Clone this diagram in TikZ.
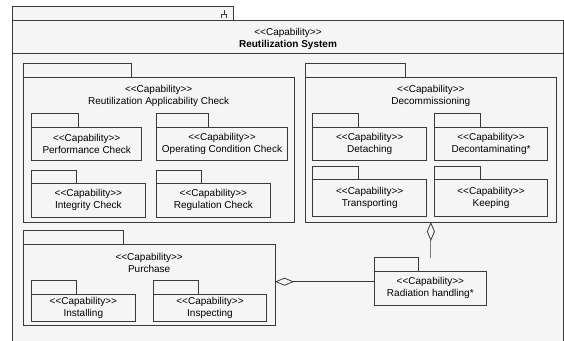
\documentclass[tikz,border=0pt]{standalone}
\usepackage{fontspec}
\setmainfont{Liberation Sans}
\usetikzlibrary{arrows.meta, calc, positioning}
\definecolor{pkgfill}{HTML}{F5F5F5}
\definecolor{pkgline}{HTML}{3A3A3A}
\definecolor{linkgray}{HTML}{7A7A7A}
\newcommand\capst{{<}{<}Capability{>}{>}}
% tab of a package: node name, tab width, tab height
\newcommand\captab[3]{\draw[tab] (#1.north west) rectangle ++(#2,-#3);}

\begin{document}
\begin{tikzpicture}[% styles used in image code
     x = 1pt, y = -1pt,
pkg/.style = {draw=pkgline, fill=pkgfill, line width=0.8pt,
              rectangle, anchor=north west,
              inner sep=0pt, outer sep=0pt, align=center,
              font=\fontsize{10}{12}\selectfont},
tab/.style = {draw=pkgline, fill=pkgfill, line width=0.8pt},
title/.style = {anchor=north, align=center, inner sep=0pt,
              font=\fontsize{10}{12}\selectfont},
agg/.style = {draw=pkgline, line width=0.8pt,
              {Diamond[open, length=19pt, width=8pt, color=pkgline]}-}
                        ]
	\useasboundingbox (0,0) rectangle (564,340);

	% system frame
	\node[pkg, minimum width=550.8pt, minimum height=330pt] (sys) at (12.7,20.7) {};
	\captab{sys}{220.6}{14.7}
	\draw[pkgline, line width=0.8pt] (224,10) -- (224,14)
	      (221.5,17.5) -- (221.5,14) -- (226.5,14) -- (226.5,17.5);
	\coordinate (hdr) at (0,53.3);
	\draw[pkgline, line width=0.8pt] (sys.west |- hdr) -- (sys.east |- hdr);
	\node[title] (systitle) at (288,28) {\capst\\\textbf{Reutilization System}};

	% reutilization applicability check
	\node[pkg, minimum width=270.7pt, minimum height=144.7pt] (rac) at (23.3,77.3) {};
	\captab{rac}{108.4}{14}
	\node[title, below=8pt of rac.north] (ractitle) {\capst\\Reutilization Applicability Check};
	\node[pkg, minimum width=110pt, minimum height=33.4pt] (perf) at (31.7,127.3)
	      {\capst\\Performance Check};
	\captab{perf}{46.6}{14}
	\node[pkg, minimum width=130.6pt, minimum height=33.4pt] (opcond) at (156.7,127.3)
	      {\capst\\Operating Condition Check};
	\captab{opcond}{51.6}{14}
	\node[pkg, minimum width=113.3pt, minimum height=34pt] (integ) at (31.7,183.3)
	      {\capst\\Integrity Check};
	\captab{integ}{45}{13.3}
	\node[pkg, minimum width=113.3pt, minimum height=34pt] (reg) at (156.7,183.3)
	      {\capst\\Regulation Check};
	\captab{reg}{45}{13.3}

	% decommissioning
	\node[pkg, minimum width=251.7pt, minimum height=144.7pt] (decom) at (305,77.3) {};
	\captab{decom}{100.7}{14}
	\node[title, below=8pt of decom.north] (decomtitle) {\capst\\Decommissioning};
	\node[pkg, minimum width=114pt, minimum height=33.4pt] (detach) at (312.7,127.3)
	      {\capst\\Detaching};
	\captab{detach}{45.6}{14}
	\node[pkg, minimum width=113.4pt, minimum height=33.4pt] (decont) at (434.3,127.3)
	      {\capst\\Decontaminating*};
	\captab{decont}{45.7}{14}
	\node[pkg, minimum width=114pt, minimum height=36.7pt] (transp) at (312.7,179.3)
	      {\capst\\Transporting};
	\captab{transp}{45.6}{13.3}
	\node[pkg, minimum width=113.4pt, minimum height=36.7pt] (keep) at (434.3,179.3)
	      {\capst\\Keeping};
	\captab{keep}{45.7}{13.3}

	% purchase
	\node[pkg, minimum width=251.7pt, minimum height=80.7pt] (purch) at (23.3,244.3) {};
	\captab{purch}{100}{13.6}
	\node[title, below=8.5pt of purch.north] (purchtitle) {\capst\\Purchase};
	\node[pkg, minimum width=103.3pt, minimum height=27.7pt] (install) at (31.7,294)
	      {\capst\\Installing};
	\captab{install}{45}{13.3}
	\node[pkg, minimum width=113.4pt, minimum height=27.7pt] (inspect) at (153.3,294)
	      {\capst\\Inspecting};
	\captab{inspect}{45}{13.3}

	% radiation handling
	\node[pkg, minimum width=112.7pt, minimum height=34pt] (rad) at (374,271)
	      {\capst\\Radiation handling*};
	\captab{rad}{44.3}{13.3}

	% aggregations
	\coordinate (radtop) at ($(decom.south |- rad.north)+(0,-13.3)$);
	\coordinate (radleft) at ($(rad.west)+(0,-6.3)$);
	\draw[agg, draw=linkgray] (decom.south) -- (radtop);
	\draw[agg] (purch.east |- radleft) -- (radleft);
\end{tikzpicture}
\end{document}
